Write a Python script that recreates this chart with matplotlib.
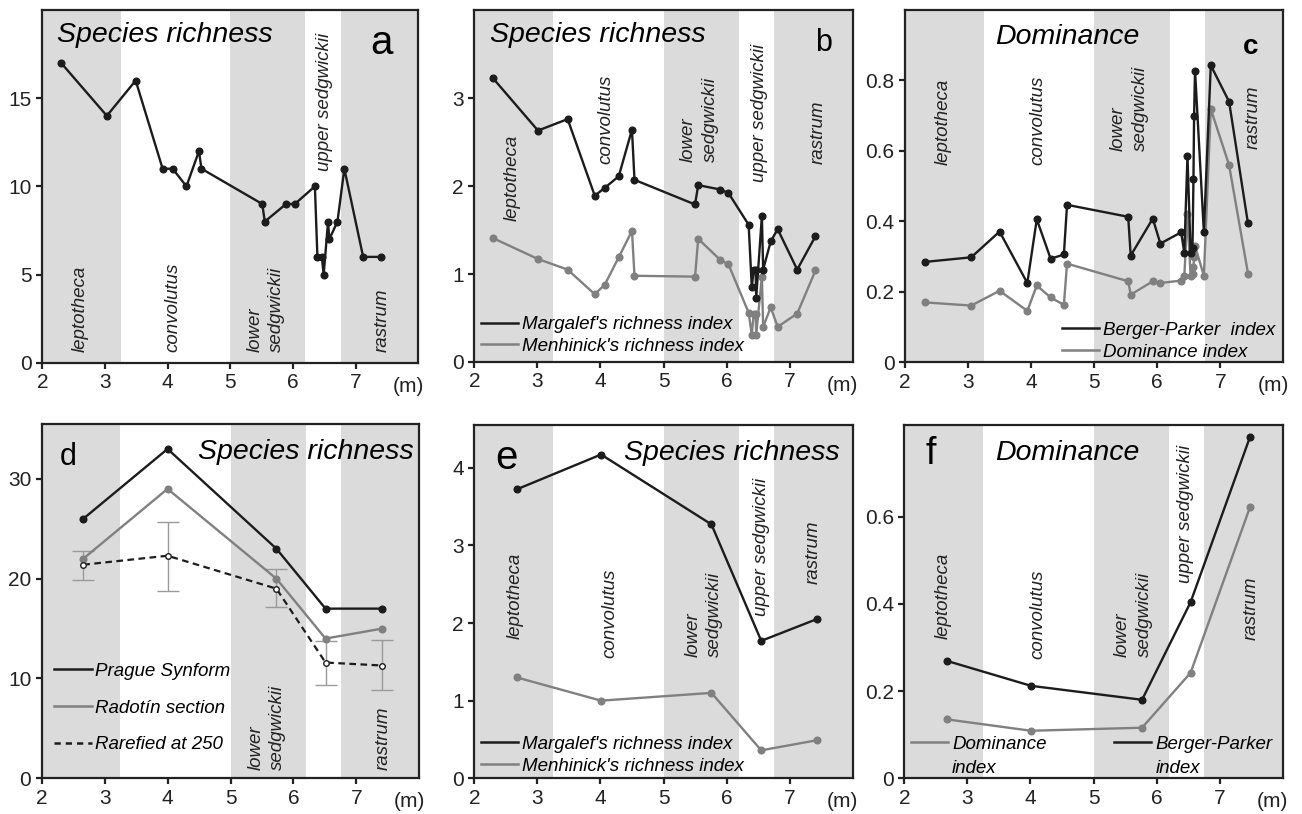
import matplotlib
matplotlib.use('Agg')
import matplotlib.pyplot as plt
from matplotlib.lines import Line2D

plt.rcParams['font.family'] = ['Liberation Sans', 'DejaVu Sans']

W, H = 1302, 814

# zone boundaries (m) shaded grey
zone_bands = [(2.0, 3.25), (5.0, 6.2), (6.76, 8.0)]

# panel a - species richness, Radotin samples
x_a = [2.30, 3.03, 3.49, 3.92, 4.08, 4.30, 4.50, 4.54, 5.51, 5.55, 5.89, 6.03,
       6.35, 6.39, 6.46, 6.49, 6.56, 6.58, 6.71, 6.82, 7.12, 7.41]
rich_a = [17, 14, 16, 11, 11, 10, 12, 11, 9, 8, 9, 9, 10, 6, 6, 5, 8, 7, 8, 11, 6, 6]

# panel b - richness indices
x_b = [2.29, 3.01, 3.48, 3.91, 4.07, 4.29, 4.50, 4.54, 5.50, 5.55, 5.90, 6.03,
       6.35, 6.40, 6.43, 6.46, 6.47, 6.56, 6.58, 6.70, 6.81, 7.12, 7.41]
margalef_b = [3.23, 2.63, 2.76, 1.89, 1.98, 2.11, 2.64, 2.07, 1.79, 2.01, 1.96, 1.92,
              1.56, 0.85, 1.05, 1.05, 0.73, 1.66, 1.05, 1.37, 1.51, 1.05, 1.43]
menhinick_b = [1.41, 1.17, 1.05, 0.77, 0.88, 1.19, 1.49, 0.98, 0.97, 1.40, 1.16, 1.11,
               0.56, 0.31, 0.55, 0.55, 0.31, 0.97, 0.40, 0.62, 0.40, 0.55, 1.04]

# panel c - dominance
x_c = [2.32, 3.05, 3.50, 3.94, 4.09, 4.31, 4.52, 4.57, 5.54, 5.58, 5.93, 6.05,
       6.38, 6.43, 6.48, 6.53, 6.56, 6.575, 6.585, 6.60, 6.74, 6.85, 7.14, 7.44]
berger_c = [0.285, 0.298, 0.371, 0.225, 0.406, 0.294, 0.306, 0.447, 0.413, 0.303, 0.408, 0.337,
            0.369, 0.311, 0.586, 0.311, 0.325, 0.52, 0.70, 0.828, 0.370, 0.843, 0.740, 0.394]
dominance_c = [0.170, 0.161, 0.203, 0.146, 0.218, 0.184, 0.163, 0.280, 0.230, 0.192, 0.230, 0.225,
               0.232, 0.244, 0.42, 0.244, 0.25, 0.27, 0.30, 0.33, 0.246, 0.719, 0.560, 0.252]

# panel d - species richness per zone
x_d = [2.66, 4.00, 5.73, 6.51, 7.41]
prague_d = [26, 33, 23, 17, 17]
radotin_d = [22, 29, 20, 14, 15]
rarefied_d = [21.4, 22.3, 19.0, 11.6, 11.3]
rarefied_lo = [19.9, 18.8, 17.2, 9.35, 8.85]
rarefied_hi = [22.8, 25.7, 20.95, 13.8, 13.9]

# panel e - richness indices per zone
x_e = [2.67, 4.01, 5.76, 6.55, 7.43]
margalef_e = [3.72, 4.17, 3.27, 1.77, 2.05]
menhinick_e = [1.30, 1.00, 1.10, 0.36, 0.49]

# panel f - dominance per zone
x_f = [2.68, 4.01, 5.77, 6.54, 7.48]
berger_f = [0.269, 0.212, 0.180, 0.404, 0.782]
dominance_f = [0.135, 0.109, 0.116, 0.242, 0.621]

BLACK = '#1c1c1c'
GREY = '#808080'
SHADE = '#dbdbdb'
ZFS = 13.5   # zone label size
TFS = 20.5   # panel title size
LFS = 13.5   # legend size


def rect(l, r, t, b):
    return [l / W, 1 - b / H, (r - l) / W, (b - t) / H]


def setup(ax, ymax, yticks):
    for lo, hi in zone_bands:
        ax.axvspan(lo, hi, color=SHADE, lw=0, zorder=0)
    ax.set_xlim(2, 8)
    ax.set_ylim(0, ymax)
    ax.set_xticks([2, 3, 4, 5, 6, 7])
    ax.set_yticks(yticks)
    ax.set_yticklabels([('%g' % v) for v in yticks])
    for s in ax.spines.values():
        s.set_linewidth(1.6)
        s.set_color('#222222')
    ax.tick_params(direction='out', length=4.5, width=1.6, labelsize=15, pad=3,
                   colors='#222222')
    ax.text(7.84, -0.04, '(m)', transform=ax.get_xaxis_transform(),
            ha='center', va='top', fontsize=15, color='#222222')


def zone(ax, x, y, txt, va):
    ax.text(x, y, txt, transform=ax.get_xaxis_transform(), rotation=90,
            ha='center', va=va, fontsize=ZFS, style='italic',
            multialignment='left', color='#222222', linespacing=1.35)


def line(ax, x, y, c, **kw):
    ax.plot(x, y, color=c, lw=1.7, marker='o', ms=4.8, mfc=c, mec=c, zorder=3, **kw)


def leg(ax, items, **kw):
    hs = [Line2D([], [], color=c, lw=1.8, ls=ls) for c, ls, _ in items]
    return ax.legend(hs, [t for _, _, t in items], frameon=False,
                     prop={'size': LFS, 'style': 'italic'},
                     handlelength=2.0, handletextpad=0.2, borderpad=0,
                     borderaxespad=0, **kw)


fig = plt.figure(figsize=(13.02, 8.14), dpi=100)

# ---- a ----
ax = fig.add_axes(rect(42.3, 418.3, 10, 362.7))
setup(ax, 20, [0, 5, 10, 15])
line(ax, x_a, rich_a, BLACK)
ax.text(0.04, 0.929, 'Species richness', transform=ax.transAxes, fontsize=TFS,
        style='italic', va='center', ha='left')
ax.text(0.933, 0.907, 'a', transform=ax.transAxes, fontsize=29, va='center', ha='right')
zone(ax, 2.60, 0.03, 'leptotheca', 'bottom')
zone(ax, 4.09, 0.03, 'convolutus', 'bottom')
zone(ax, 5.57, 0.03, 'lower\nsedgwickii', 'bottom')
zone(ax, 6.50, 0.935, 'upper sedgwickii', 'top')
zone(ax, 7.43, 0.03, 'rastrum', 'bottom')

# ---- b ----
ax = fig.add_axes(rect(474.3, 852.7, 10, 362))
setup(ax, 4, [0, 1, 2, 3])
line(ax, x_b, menhinick_b, GREY)
line(ax, x_b, margalef_b, BLACK)
ax.text(0.041, 0.929, 'Species richness', transform=ax.transAxes, fontsize=TFS,
        style='italic', va='center', ha='left')
ax.text(0.944, 0.905, 'b', transform=ax.transAxes, fontsize=22, va='center', ha='right')
zone(ax, 2.60, 0.645, 'leptotheca', 'top')
zone(ax, 4.08, 0.815, 'convolutus', 'top')
zone(ax, 5.57, 0.569, 'lower\nsedgwickii', 'bottom')
zone(ax, 6.53, 0.905, 'upper sedgwickii', 'top')
zone(ax, 7.46, 0.744, 'rastrum', 'top')
leg(ax, [(BLACK, '-', "Margalef's richness index"),
         (GREY, '-', "Menhinick's richness index")],
    loc='lower left', bbox_to_anchor=(0.017, 0.02), labelspacing=0.25)

# ---- c ----
ax = fig.add_axes(rect(905, 1283.3, 10, 362.3))
setup(ax, 1.0, [0, 0.2, 0.4, 0.6, 0.8])
line(ax, x_c, dominance_c, GREY)
line(ax, x_c, berger_c, BLACK)
ax.text(0.238, 0.924, 'Dominance', transform=ax.transAxes, fontsize=TFS,
        style='italic', va='center', ha='left')
ax.text(0.934, 0.896, 'c', transform=ax.transAxes, fontsize=20, fontweight='bold',
        va='center', ha='right')
zone(ax, 2.61, 0.806, 'leptotheca', 'top')
zone(ax, 4.10, 0.815, 'convolutus', 'top')
zone(ax, 5.56, 0.60, 'lower\nsedgwickii', 'bottom')
zone(ax, 7.53, 0.787, 'rastrum', 'top')
leg(ax, [(BLACK, '-', 'Berger-Parker  index'),
         (GREY, '-', 'Dominance index')],
    loc='lower left', bbox_to_anchor=(0.414, 0.005), labelspacing=0.25)

# ---- d ----
ax = fig.add_axes(rect(41.7, 419.3, 424, 778.3))
setup(ax, 35.5, [0, 10, 20, 30])
err = [[m - lo for m, lo in zip(rarefied_d, rarefied_lo)],
       [hi - m for m, hi in zip(rarefied_d, rarefied_hi)]]
ax.errorbar(x_d, rarefied_d, yerr=err, fmt='none', ecolor='#9a9a9a', elinewidth=1.0,
            capsize=8, capthick=1.0, zorder=2)
line(ax, x_d, prague_d, BLACK)
line(ax, x_d, radotin_d, GREY)
ax.plot(x_d, rarefied_d, color=BLACK, lw=1.6, ls=(0, (3, 2)), marker='o', ms=4,
        mfc='white', mec=BLACK, mew=1.0, zorder=4)
ax.text(0.047, 0.908, 'd', transform=ax.transAxes, fontsize=22, va='center', ha='left')
ax.text(0.984, 0.922, 'Species richness', transform=ax.transAxes, fontsize=TFS,
        style='italic', va='center', ha='right')
zone(ax, 5.58, 0.023, 'lower\nsedgwickii', 'bottom')
zone(ax, 7.43, 0.023, 'rastrum', 'bottom')
leg(ax, [(BLACK, '-', 'Prague Synform'),
         (GREY, '-', 'Radotín section'),
         (BLACK, (0, (2.5, 2)), 'Rarefied at 250')],
    loc='lower left', bbox_to_anchor=(0.033, 0.07), labelspacing=1.05)

# ---- e ----
ax = fig.add_axes(rect(474.3, 852.7, 425, 778.3))
setup(ax, 4.55, [0, 1, 2, 3, 4])
line(ax, x_e, menhinick_e, GREY)
line(ax, x_e, margalef_e, BLACK)
ax.text(0.055, 0.908, 'e', transform=ax.transAxes, fontsize=29, va='center', ha='left')
ax.text(0.965, 0.922, 'Species richness', transform=ax.transAxes, fontsize=TFS,
        style='italic', va='center', ha='right')
zone(ax, 2.65, 0.637, 'leptotheca', 'top')
zone(ax, 4.15, 0.594, 'convolutus', 'top')
zone(ax, 5.64, 0.344, 'lower\nsedgwickii', 'bottom')
zone(ax, 6.55, 0.849, 'upper sedgwickii', 'top')
zone(ax, 7.37, 0.731, 'rastrum', 'top')
leg(ax, [(BLACK, '-', "Margalef's richness index"),
         (GREY, '-', "Menhinick's richness index")],
    loc='lower left', bbox_to_anchor=(0.017, 0.01), labelspacing=0.25)

# ---- f ----
ax = fig.add_axes(rect(904.3, 1282.7, 425, 778.3))
setup(ax, 0.81, [0, 0.2, 0.4, 0.6])
line(ax, x_f, dominance_f, GREY)
line(ax, x_f, berger_f, BLACK)
ax.text(0.055, 0.917, 'f', transform=ax.transAxes, fontsize=27, va='center', ha='left')
ax.text(0.24, 0.922, 'Dominance', transform=ax.transAxes, fontsize=TFS,
        style='italic', va='center', ha='left')
zone(ax, 2.62, 0.637, 'leptotheca', 'top')
zone(ax, 4.12, 0.59, 'convolutus', 'top')
zone(ax, 5.63, 0.344, 'lower\nsedgwickii', 'bottom')
zone(ax, 6.46, 0.943, 'upper sedgwickii', 'top')
zone(ax, 7.50, 0.571, 'rastrum', 'top')
# two-line labels: second line gets a blank handle so the key sits on the first line
leg(ax, [(GREY, '-', 'Dominance'), ('none', '-', 'index'),
         (BLACK, '-', 'Berger-Parker'), ('none', '-', 'index')],
    loc='lower left', bbox_to_anchor=(0.017, 0.005), ncol=2, columnspacing=3.6,
    labelspacing=0.35)

fig.savefig('out.png', dpi=100)
